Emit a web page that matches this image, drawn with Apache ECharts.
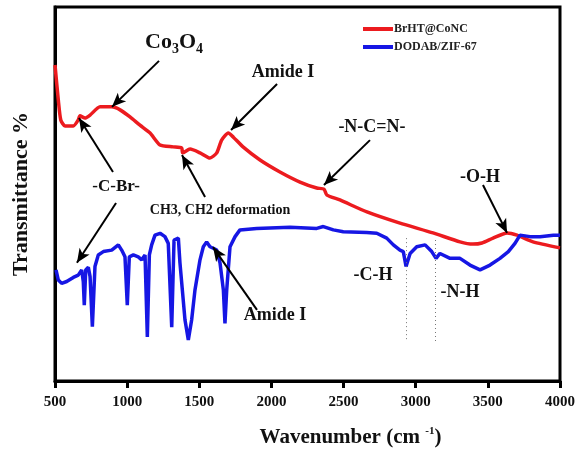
<!DOCTYPE html>
<html lang="en">
<head>
    <meta charset="UTF-8">
    <title>FTIR</title>
    <style>
        html, body { margin: 0; padding: 0; background: #fff; }
    </style>
</head>
<body>
<div id="main" style="height: 457px;width: 584px"></div>
</body>
<script src="https://cdn.jsdelivr.net/npm/echarts@6/dist/echarts.min.js"></script>
<script>
    var xTicks = [500, 1000, 1500, 2000, 2500, 3000, 3500, 4000];

    // BrHT@CoNC (red)
    var redWave = [500, 523, 540, 569, 627, 661, 673, 708, 743, 812, 893, 951, 1020, 1089, 1159, 1228, 1318, 1378, 1385, 1436,
        1505, 1574, 1621, 1655, 1701, 1736, 1803, 1921, 2059, 2198, 2314, 2364, 2385, 2475, 2662, 2891, 3120, 3307, 3397, 3459,
        3536, 3633, 3702, 3813, 4000];
    var redTrans = [84.5, 75.1, 69.8, 68.2, 68.2, 69.8, 70.9, 70.3, 71.1, 73.3, 73.3, 72.5, 70.6, 68.4, 66.3, 63.1, 62.6, 62.3, 61.0, 62.0,
        61.0, 59.6, 61.0, 64.4, 66.3, 65.2, 62.6, 59.1, 55.9, 53.2, 51.6, 51.3, 49.7, 48.4, 45.2, 42.2, 39.6, 37.2, 36.6, 36.9,
        38.2, 39.6, 39.0, 37.2, 35.6];

    // DODAB/ZIF-67 (blue)
    var blueWave = [507, 523, 546, 581, 627, 661, 685, 696, 703, 713, 731, 743, 759, 777, 800, 835, 893, 939, 962, 985,
        1001, 1015, 1043, 1077, 1101, 1124, 1140, 1154, 1170, 1193, 1228, 1262, 1285, 1309, 1325, 1355, 1366, 1401, 1424, 1447,
        1470, 1505, 1528, 1551, 1574, 1597, 1621, 1644, 1667, 1678, 1690, 1713, 1748, 1782, 1898, 2129, 2314, 2360, 2429, 2498,
        2660, 2730, 2799, 2845, 2891, 2914, 2933, 2961, 3007, 3065, 3111, 3141, 3168, 3238, 3307, 3376, 3446, 3515, 3584, 3642,
        3688, 3723, 3792, 3862, 3954, 4000];
    var blueTrans = [29.7, 27.0, 26.1, 26.6, 27.7, 28.3, 29.7, 26.6, 20.3, 29.7, 30.4, 27.9, 14.5, 30.6, 33.7, 34.6, 35.0, 36.4, 35.0, 33.2,
        20.3, 33.2, 33.7, 33.2, 32.4, 33.7, 11.8, 33.7, 36.4, 39.0, 39.5, 38.6, 36.8, 14.4, 37.7, 38.2, 31.6, 16.3, 11.0, 16.3,
        24.3, 32.4, 35.9, 37.2, 35.9, 35.5, 35.0, 31.5, 24.3, 15.4, 24.3, 35.9, 38.6, 40.4, 40.8, 41.1, 40.8, 41.3, 40.4, 39.9,
        39.7, 39.5, 38.2, 36.4, 35.0, 34.6, 30.6, 34.1, 35.9, 36.4, 34.6, 32.8, 34.1, 32.8, 32.8, 31.0, 29.7, 31.0, 32.8, 34.6,
        36.8, 39.0, 38.6, 38.6, 39.0, 39.0];

    // annotation arrows [fromX, fromY, toX, toY] in data units
    var arrows = [
        [1221, 85.6, 895, 73.3],
        [2039, 79.4, 1720, 67.1],
        [902, 55.9, 666, 70.3],
        [923, 47.6, 652, 31.6],
        [1540, 49.2, 1380, 60.4],
        [1900, 19.0, 1595, 35.8],
        [2683, 64.4, 2364, 52.4],
        [3466, 52.4, 3633, 39.6]
    ];
    // dotted guide lines [x, yTop, yBottom]
    var guides = [[2932, 38.2, 10.4], [3134, 37.7, 10.4]];

    // labels [text, x, y, fontSize]
    var labels = [
        ['{a|Co}{s|3}{a|O}{s|4}', 1325, 90.6, 22],
        ['Amide I', 2080, 82.6, 18],
        ['-C-Br-', 923, 51.9, 17],
        ['CH3, CH2 deformation', 1644, 45.5, 14],
        ['Amide I', 2025, 17.6, 18],
        ['-N-C=N-', 2697, 67.9, 18],
        ['-O-H', 3446, 54.5, 18],
        ['-C-H', 2704, 28.3, 18],
        ['-N-H', 3307, 23.8, 18]
    ];

    var serif = '"Liberation Serif", "Times New Roman", serif';

    function pairs(xs, ys) {
        var out = [];
        for (var i = 0; i < xs.length; i++) out.push([xs[i], ys[i]]);
        return out;
    }

    var myChart = echarts.init(document.getElementById('main'));

    var arrowData = arrows.map(function (a) {
        return [{coord: [a[0], a[1]]}, {coord: [a[2], a[3]]}];
    });
    var guideData = guides.map(function (g) {
        return [{coord: [g[0], g[1]]}, {coord: [g[0], g[2]]}];
    });

    var option = {
        animation: false,
        grid: {
            left: 55, top: 7, right: 24, bottom: 76,
            show: true, borderColor: '#000', borderWidth: 3
        },
        legend: {
            left: 358, top: 18, orient: 'vertical',
            itemWidth: 30, itemHeight: 4, itemGap: 6, icon: 'rect',
            textStyle: {fontFamily: serif, fontWeight: 'bold', fontSize: 12, color: '#222', padding: [0, 0, 0, -4]},
            data: ['BrHT@CoNC', 'DODAB/ZIF-67']
        },
        xAxis: {
            type: 'value', min: xTicks[0], max: xTicks[xTicks.length - 1], interval: 500,
            name: '{a|Wavenumber (cm }{sup|-1}{a|)}',
            nameLocation: 'middle', nameGap: 45,
            nameTextStyle: {
                padding: [0, 0, 0, 86],
                rich: {
                    a: {fontFamily: serif, fontWeight: 'bold', fontSize: 21, color: '#111'},
                    sup: {fontFamily: serif, fontWeight: 'bold', fontSize: 11, color: '#111', padding: [0, 0, 12, 0]}
                }
            },
            axisLine: {lineStyle: {color: '#000', width: 3}},
            axisTick: {show: true, inside: false, length: 7, lineStyle: {color: '#000', width: 3}},
            axisLabel: {
                fontFamily: serif, fontWeight: 'bold', fontSize: 15, color: '#111', margin: 14,
                formatter: function (v) { return String(v); }
            },
            splitLine: {show: false}
        },
        yAxis: {
            type: 'value', min: 0, max: 100,
            name: 'Transmittance %', nameLocation: 'middle', nameGap: 23, nameRotate: 90,
            nameTextStyle: {fontFamily: serif, fontWeight: 'bold', fontSize: 22, color: '#111'},
            axisLine: {show: true, lineStyle: {color: '#000', width: 3}},
            axisTick: {show: false},
            axisLabel: {show: false},
            splitLine: {show: false}
        },
        series: [
            {
                name: 'BrHT@CoNC', type: 'line', data: pairs(redWave, redTrans),
                showSymbol: false, smooth: 0.2, color: '#ec1b1f',
                lineStyle: {width: 3.5, color: '#ec1b1f'},
                markLine: {
                    silent: true, symbol: ['none', 'arrow'], symbolSize: [9, 14],
                    label: {show: false},
                    lineStyle: {color: '#000', width: 2, type: 'solid'},
                    data: arrowData
                }
            },
            {
                name: 'DODAB/ZIF-67', type: 'line', data: pairs(blueWave, blueTrans),
                showSymbol: false, color: '#1616e4',
                lineStyle: {width: 3.5, color: '#1616e4'},
                markLine: {
                    silent: true, symbol: ['none', 'none'],
                    label: {show: false},
                    lineStyle: {color: '#777', width: 1, type: [1, 3]},
                    data: guideData
                }
            }
        ]
    };

    myChart.setOption(option);

    var graphics = labels.map(function (l) {
        var p = myChart.convertToPixel({gridIndex: 0}, [l[1], l[2]]);
        return {
            type: 'text', x: p[0], y: p[1], z: 10,
            style: {
                text: l[0], align: 'center', verticalAlign: 'middle',
                fontFamily: serif, fontWeight: 'bold', fontSize: l[3], fill: '#111',
                rich: {
                    a: {fontFamily: serif, fontWeight: 'bold', fontSize: l[3], fill: '#111'},
                    s: {fontFamily: serif, fontWeight: 'bold', fontSize: 14, fill: '#111', padding: [14, 0, 0, 0]}
                }
            }
        };
    });
    myChart.setOption({graphic: graphics});
</script>
</html>
